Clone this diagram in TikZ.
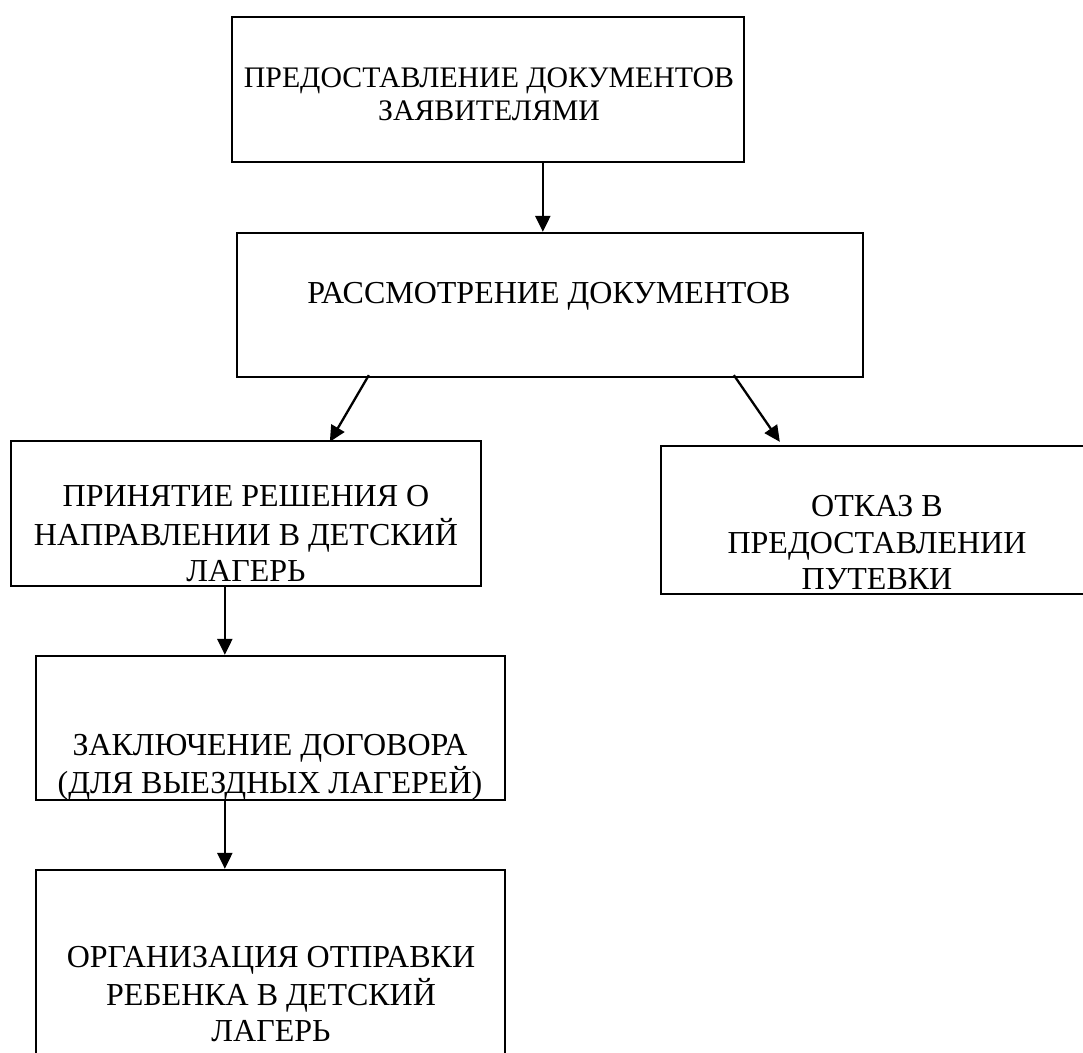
\documentclass[tikz,border=0pt]{standalone}
\usepackage{fontspec}
\setmainfont{Liberation Serif}
\usetikzlibrary{arrows.meta,fit}
\tikzset{
  box/.style={draw=black, line width=1.15pt, inner sep=0pt, fill=none},
  txt/.style={inner sep=0pt, anchor=base},
  arr/.style={line width=1.15pt, -{Triangle[length=8pt,width=7.5pt]}}
}
\newcommand{\boxlines}[1]{\fontsize{16}{18.25}\selectfont\setlength{\tabcolsep}{0pt}\begin{tabular}[t]{c}#1\end{tabular}}
\newcommand{\boxlinessmall}[1]{\fontsize{14.9}{16.5}\selectfont\setlength{\tabcolsep}{0pt}\begin{tabular}[t]{c}#1\end{tabular}}
\begin{document}
\begin{tikzpicture}[x=0.5pt,y=-0.5pt]
\useasboundingbox (0,0) rectangle (1083,1053);
\fill[white] (0,0) rectangle (1083,1053);
\clip (0,0) rectangle (1083,1053);
% boxes
\node[box, fit={(232,17) (744,162)}] (b1) {};
\node[box, fit={(237,233) (863,377)}] (b2) {};
\node[box, fit={(11,441) (481,586)}] (b3) {};
\node[box, fit={(661,446) (1093,594)}] (b4) {};
\node[box, fit={(36,656) (505,800)}] (b5) {};
\node[box, fit={(36,870) (505,1075)}] (b6) {};
% texts
\node[txt] (t1) at (489,88) {\boxlinessmall{ПРЕДОСТАВЛЕНИЕ ДОКУМЕНТОВ\\ЗАЯВИТЕЛЯМИ}};
\node[txt] (t2) at (549,304) {\boxlines{РАССМОТРЕНИЕ ДОКУМЕНТОВ}};
\node[txt] (t3) at (246,507) {\boxlines{ПРИНЯТИЕ РЕШЕНИЯ О\\НАПРАВЛЕНИИ В ДЕТСКИЙ\\ЛАГЕРЬ}};
\node[txt] (t4) at (877,517) {\boxlines{ОТКАЗ В\\ПРЕДОСТАВЛЕНИИ\\ПУТЕВКИ}};
\node[txt] (t5) at (270,755) {\boxlines{ЗАКЛЮЧЕНИЕ ДОГОВОРА\\(ДЛЯ ВЫЕЗДНЫХ ЛАГЕРЕЙ)}};
\node[txt] (t6) at (271,967) {\boxlines{ОРГАНИЗАЦИЯ ОТПРАВКИ\\РЕБЕНКА В ДЕТСКИЙ\\ЛАГЕРЬ}};
% connectors
\draw[arr] ([xshift=312*0.5pt]b1.south west) -- ([xshift=307*0.5pt]b2.north west);
\draw[arr] ([shift={(133,-3)}]b2.south west) -- ([shift={(320,2)}]b3.north west);
\draw[arr] ([shift={(498,-3)}]b2.south west) -- ([shift={(120,-3)}]b4.north west);
\draw[arr] ([xshift=215*0.5pt]b3.south west) -- ([xshift=190*0.5pt]b5.north west);
\draw[arr] ([xshift=190*0.5pt]b5.south west) -- ([xshift=190*0.5pt]b6.north west);
\end{tikzpicture}
\end{document}
